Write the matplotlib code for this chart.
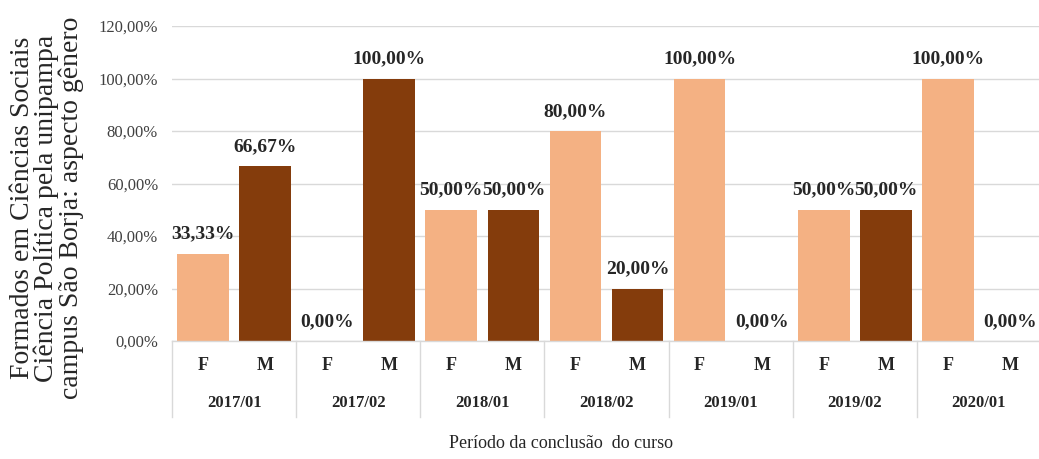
import matplotlib
matplotlib.use("Agg")
import matplotlib.pyplot as plt
from matplotlib.lines import Line2D
import numpy as np

periods = ["2017/01", "2017/02", "2018/01", "2018/02", "2019/01", "2019/02", "2020/01"]
f_values = [33.33, 0.00, 50.00, 80.00, 100.00, 50.00, 100.00]
m_values = [66.67, 100.00, 50.00, 20.00, 0.00, 50.00, 0.00]
yticks = [0, 20, 40, 60, 80, 100, 120]

SERIF = ["Liberation Serif", "DejaVu Serif"]
plt.rcParams["font.family"] = SERIF

W, H = 1039, 459
fig = plt.figure(figsize=(W / 100, H / 100), dpi=100)
left, right, top, bottom = 172, 1041, 26, 341
ax = fig.add_axes([left / W, (H - bottom) / H, (right - left) / W, (bottom - top) / H])

x = np.arange(len(periods))
bw = 0.416
F_COL = "#F4B183"
M_COL = "#843C0C"
bf = ax.bar(x - 0.25, f_values, width=bw, color=F_COL, zorder=2)
bm = ax.bar(x + 0.25, m_values, width=bw, color=M_COL, zorder=2)

def fmt(v):
    return f"{v:.2f}".replace(".", ",") + "%"

for bars, vals in ((bf, f_values), (bm, m_values)):
    for b, v in zip(bars, vals):
        ax.annotate(fmt(v), (b.get_x() + b.get_width() / 2, v), xytext=(0, 8),
                    textcoords="offset points", ha="center", va="bottom",
                    fontsize=14, fontweight="bold", color="#262626")

ax.set_xlim(-0.5, len(periods) - 0.5)
ax.set_ylim(0, 120)
ax.set_yticks(yticks)
ax.set_yticklabels([fmt(t) for t in yticks], fontsize=12, color="#404040")
ax.tick_params(axis="y", length=0, pad=10)
ax.set_xticks([])
ax.grid(axis="y", color="#D9D9D9", linewidth=1, zorder=0)
for s in ("top", "right", "left"):
    ax.spines[s].set_visible(False)
ax.spines["bottom"].set_color("#D9D9D9")
ax.spines["bottom"].set_linewidth(1)

trans = ax.get_xaxis_transform()
hpx = bottom - top
for i, p in enumerate(periods):
    ax.text(i - 0.25, -24 / hpx, "F", transform=trans, ha="center", va="center",
            fontsize=13, fontweight="bold", color="#262626")
    ax.text(i + 0.25, -24 / hpx, "M", transform=trans, ha="center", va="center",
            fontsize=13, fontweight="bold", color="#262626")
    ax.text(i, -62 / hpx, p, transform=trans, ha="center", va="center",
            fontsize=12, fontweight="bold", color="#262626")
for k in range(len(periods) + 1):
    ax.add_line(Line2D([k - 0.5, k - 0.5], [0, -76 / hpx], transform=trans,
                       color="#D9D9D9", linewidth=1, clip_on=False))

fig.text(561 / W, (H - 444) / H, "Período da conclusão  do curso",
         ha="center", va="center", fontsize=13, color="#262626")
fig.text(47 / W, (H - 208) / H,
         "Formados em Ciências Sociais\nCiência Política pela unipampa\ncampus São Borja: aspecto gênero",
         rotation=90, ha="center", va="center", multialignment="center",
         fontsize=20, linespacing=0.97, color="#262626")

fig.savefig("out.png", dpi=100)
